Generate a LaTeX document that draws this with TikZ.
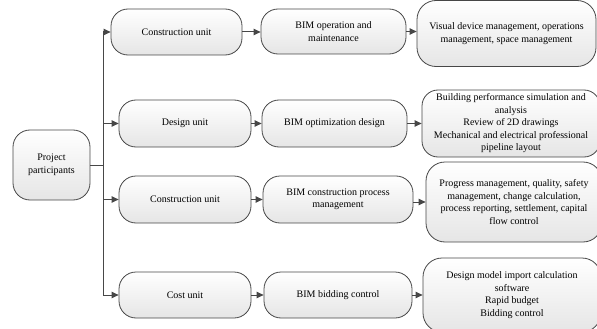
\documentclass[tikz,border=0pt]{standalone}
\usepackage{fontspec}
\setmainfont{Liberation Serif}
\usetikzlibrary{arrows.meta}
\tikzset{
  box/.style={draw=black!72, line width=0.8pt, rounded corners=17pt,
    top color=white, bottom color=black!10, align=center,
    inner sep=2pt, font=\fontsize{10}{12.5}\selectfont},
  arr/.style={draw=black!72, line width=1pt, -{Triangle[length=7pt,width=6.5pt]}},
  ln/.style={draw=black!72, line width=1pt}
}
\begin{document}
\begin{tikzpicture}[x=1pt,y=-1pt]
\useasboundingbox (0,0) rectangle (597,329);
% left
\node[box, minimum width=77pt, minimum height=70pt] (pp) at (51.5,165) {Project\\participants};
% first column
\node[box, minimum width=131pt, minimum height=46pt] (c1) at (176.5,32) {Construction unit};
\node[box, minimum width=132pt, minimum height=47pt] (c2) at (185,123.5) {Design unit};
\node[box, minimum width=132pt, minimum height=47pt] (c3) at (185,199.5) {Construction unit};
\node[box, minimum width=132pt, minimum height=46pt] (c4) at (185,295) {Cost unit};
% second column
\node[box, minimum width=145pt, minimum height=45pt] (b1) at (333.5,31.5) {BIM operation and\\maintenance};
\node[box, minimum width=145pt, minimum height=47pt] (b2) at (334.5,123.5) {BIM optimization design};
\node[box, minimum width=150pt, minimum height=47pt] (b3) at (338,199.5) {BIM construction process\\management};
\node[box, minimum width=148pt, minimum height=46pt] (b4) at (338,295) {BIM bidding control};
% third column
\node[box, minimum width=179pt, minimum height=66pt, rounded corners=19pt] (d1) at (506.5,33.5) {Visual device management, operations\\management, space management};
\node[box, minimum width=178pt, minimum height=67pt, rounded corners=16pt] (d2) at (511,123.5) {Building performance simulation and\\analysis\\Review of 2D drawings\\Mechanical and electrical professional\\pipeline layout};
\node[box, minimum width=176pt, minimum height=80pt, rounded corners=19pt] (d3) at (514,202) {Progress management, quality, safety\\management, change calculation,\\process reporting, settlement, capital\\flow control};
\node[box, minimum width=178pt, minimum height=74pt, rounded corners=19pt] (d4) at (512,295) {Design model import calculation\\software\\Rapid budget\\Bidding control};
% trunk
\coordinate (t) at (103,165);
\draw[ln] (pp.east) -- (t);
\draw[arr] (t) |- (c1.west);
\draw[arr] (t) |- (c2.west);
\draw[arr] (t) |- (c3.west);
\draw[arr] (t) |- (c4.west);
% row arrows
\draw[arr] (c1.east) -- (b1.west |- c1.east);
\draw[arr] (c2.east) -- (b2.west |- c2.east);
\draw[arr] (c3.east) -- (b3.west |- c3.east);
\draw[arr] (c4.east) -- (b4.west |- c4.east);
\draw[arr] (b1.east) -- (d1.west |- b1.east);
\draw[arr] (b2.east) -- (d2.west |- b2.east);
\draw[arr] ([yshift=-2.5pt]b3.east) -- (d3.west |- d3.center);
\draw[arr] (b4.east) -- (d4.west |- b4.east);
\end{tikzpicture}
\end{document}
